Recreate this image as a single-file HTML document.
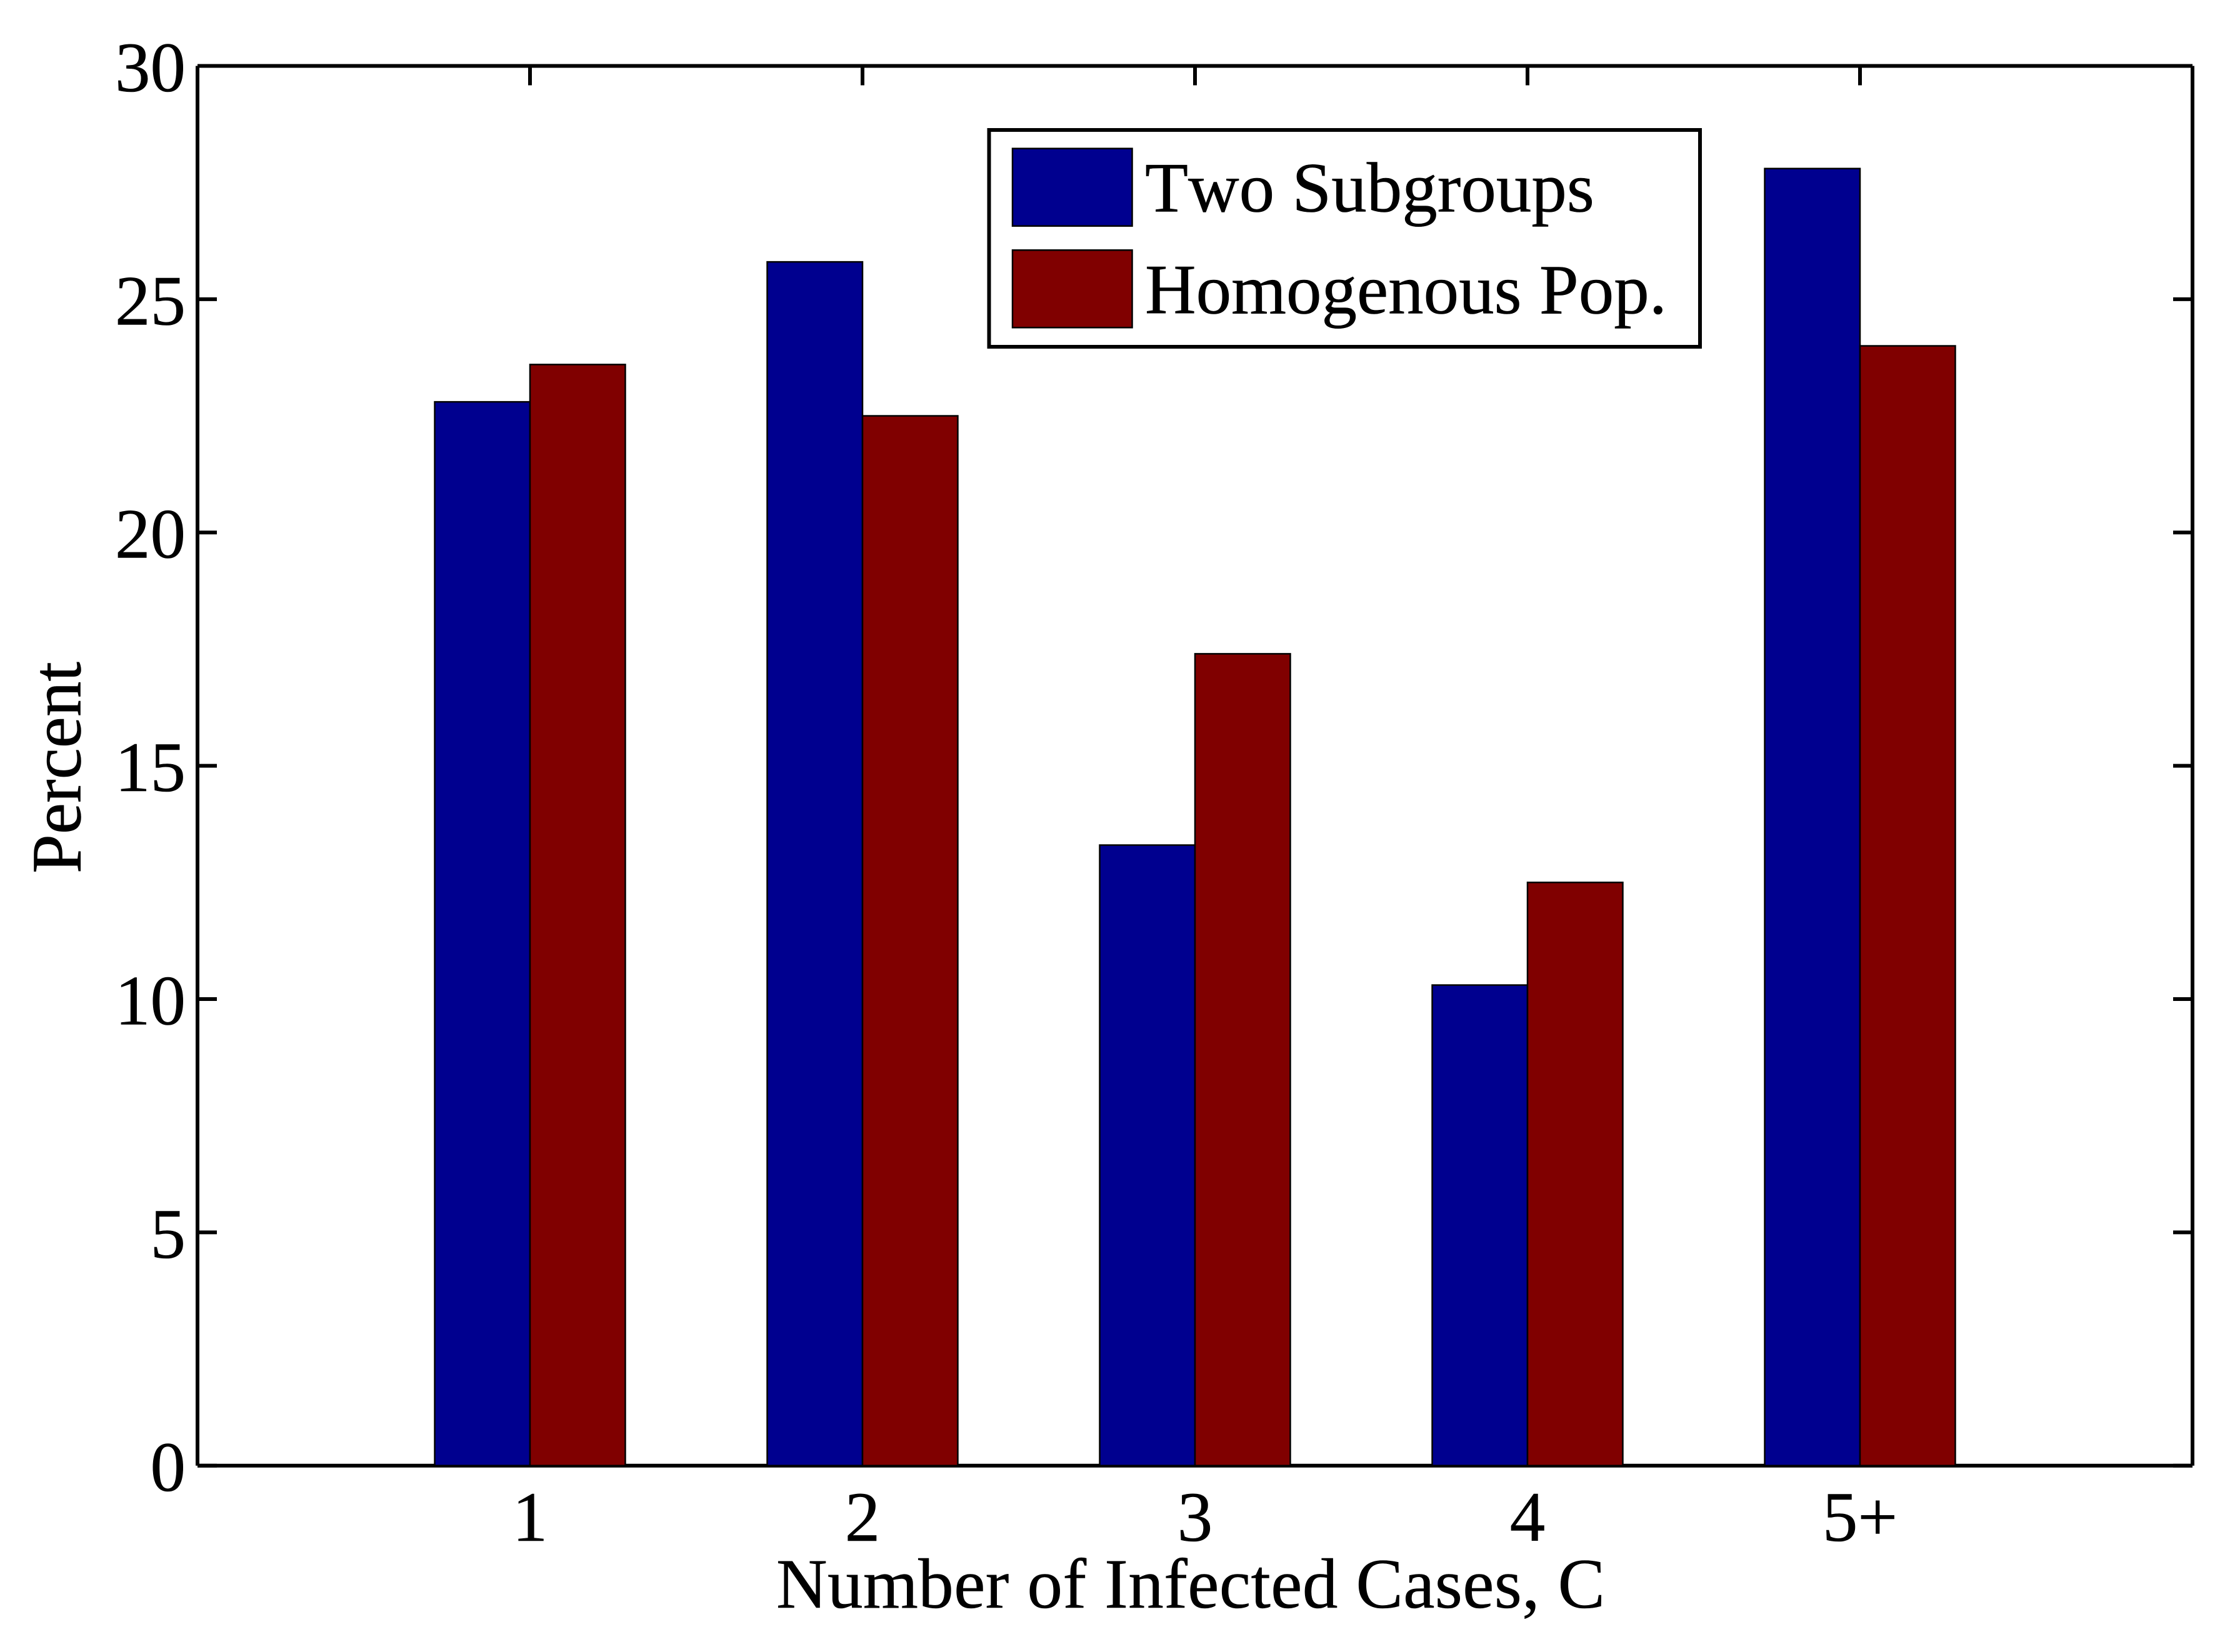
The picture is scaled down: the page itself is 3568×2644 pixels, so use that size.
<!DOCTYPE html>
<html lang="en">
<head>
<meta charset="utf-8">
<title>Percent by Number of Infected Cases</title>
<style>
  html, body { margin: 0; padding: 0; background: #fff; }
  svg { display: block; }
  text { font-family: "Liberation Serif", serif; font-size: 113px; fill: #000; font-kerning: none; stroke: #000; stroke-width: 0.6px; }
</style>
</head>
<body>
<svg id="chart" xmlns="http://www.w3.org/2000/svg" width="3568" height="2644" viewBox="0 0 3568 2644">
  <rect x="0" y="0" width="3568" height="2644" fill="#ffffff"/>
  <g id="ticks"></g>
  <g id="spines"></g>
  <g id="bars"></g>
  <g id="labels"></g>
  <text transform="translate(128.5,1398) rotate(-90)">Percent</text>
  <text x="1905" y="2573" text-anchor="middle" textLength="1326" lengthAdjust="spacing">Number of Infected Cases, C</text>
  <g id="legend">
    <rect x="1582.5" y="208" width="1137.5" height="347" fill="#ffffff" stroke="#000" stroke-width="6"/>
    <rect x="1620" y="237.7" width="191.5" height="124" fill="#00008f" stroke="#000" stroke-width="2.5"/>
    <text x="1832" y="338.3">Two Subgroups</text>
    <rect x="1620" y="400.3" width="191.5" height="124" fill="#800000" stroke="#000" stroke-width="2.5"/>
    <text x="1832" y="501.7">Homogenous Pop.</text>
  </g>
</svg>
<script>
const categories = ['1', '2', '3', '4', '5+'];
const twoSubgroups = [22.8, 25.8, 13.3, 10.3, 27.8];
const homogenousPop = [23.6, 22.5, 17.4, 12.5, 24.0];
const yTickValues = [0, 5, 10, 15, 20, 25, 30];

const NS = 'http://www.w3.org/2000/svg';
const plotLeft = 316, plotRight = 3508, plotTop = 105.5, plotBottom = 2345.7;
const xMin = 0, xMax = 6, yMin = 0, yMax = 30;
const barWidth = 0.2866, tickLength = 31;

function xScale(v) { return plotLeft + (v - xMin) / (xMax - xMin) * (plotRight - plotLeft); }
function yScale(v) { return plotBottom - (v - yMin) / (yMax - yMin) * (plotBottom - plotTop); }

function makeLine(parent, x1, y1, x2, y2) {
  const el = document.createElementNS(NS, 'line');
  el.setAttribute('x1', x1);
  el.setAttribute('y1', y1);
  el.setAttribute('x2', x2);
  el.setAttribute('y2', y2);
  el.setAttribute('stroke', '#000');
  el.setAttribute('stroke-width', 6);
  parent.appendChild(el);
  return el;
}

function makeLabel(parent, str, x, y, anchor) {
  const el = document.createElementNS(NS, 'text');
  el.setAttribute('x', x);
  el.setAttribute('y', y);
  el.setAttribute('text-anchor', anchor);
  el.textContent = str;
  parent.appendChild(el);
  return el;
}

function makeBar(parent, cx, value, fill) {
  const el = document.createElementNS(NS, 'rect');
  const top = yScale(value);
  el.setAttribute('x', xScale(cx));
  el.setAttribute('y', top);
  el.setAttribute('width', xScale(cx + barWidth) - xScale(cx));
  el.setAttribute('height', yScale(0) - top);
  el.setAttribute('fill', fill);
  el.setAttribute('stroke', '#000');
  el.setAttribute('stroke-width', 2.5);
  parent.appendChild(el);
  return el;
}

const ticksG = document.getElementById('ticks');
const spinesG = document.getElementById('spines');
const barsG = document.getElementById('bars');
const labelsG = document.getElementById('labels');

yTickValues.forEach(function (v) {
  const left = makeLine(ticksG, plotLeft, yScale(v), plotLeft + tickLength, yScale(v));
  
  
  const right = makeLine(ticksG, plotRight, yScale(v), plotRight - tickLength, yScale(v));
  
  
  const label = makeLabel(labelsG, String(v), 297, yScale(v) + 40.5, 'end');
  
  
});

categories.forEach(function (c, i) {
  const pos = i + 1;
  const top = makeLine(ticksG, xScale(pos), plotTop, xScale(pos), plotTop + tickLength);
  
  
  const bottom = makeLine(ticksG, xScale(pos), plotBottom, xScale(pos), plotBottom - tickLength);
  
  
  const label = makeLabel(labelsG, c, xScale(pos), 2466, 'middle');
  
  
});

const spineLeft = makeLine(spinesG, plotLeft, plotTop, plotLeft, plotBottom);


const spineRight = makeLine(spinesG, plotRight, plotTop, plotRight, plotBottom);


const spineTop = makeLine(spinesG, plotLeft, plotTop, plotRight, plotTop);


const spineBottom = makeLine(spinesG, plotLeft, plotBottom, plotRight, plotBottom);



categories.forEach(function (c, i) {
  const pos = i + 1;
  const blue = makeBar(barsG, pos - barWidth, twoSubgroups[i], '#00008f');
  
  
  const red = makeBar(barsG, pos, homogenousPop[i], '#800000');
  
  
});
</script>
</body>
</html>
